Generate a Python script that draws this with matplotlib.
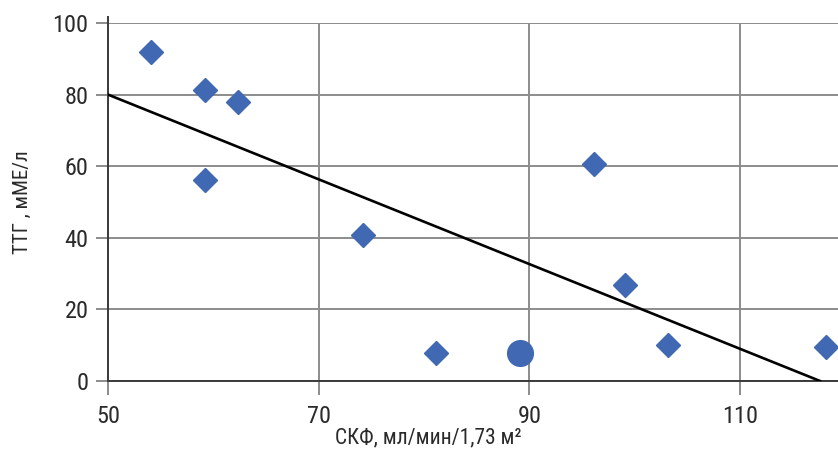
import matplotlib
matplotlib.use("Agg")
import matplotlib.pyplot as plt

plt.rcParams['font.family'] = ['Roboto Condensed', 'Liberation Sans Narrow', 'Roboto', 'DejaVu Sans']

# Data
gfr = [54.1, 59.2, 62.3, 59.2, 74.2, 81.1, 96.1, 99.1, 103.2, 118.2]
tsh = [91.9, 81.3, 77.9, 56.1, 40.8, 7.8, 60.6, 26.8, 10.1, 9.5]
highlight_gfr = [89.1]
highlight_tsh = [7.8]
trend_gfr = [50, 117.6]
trend_tsh = [80, 0]
x_ticks = [50, 70, 90, 110]
y_ticks = [0, 20, 40, 60, 80, 100]

blue = '#4068B3'
grid_c = '#8c8c8c'
axis_c = '#3a3a3a'
text_c = '#2a2a2a'

fig = plt.figure(figsize=(8.38, 4.54), dpi=100)
ax = fig.add_axes([108/838, (454-381)/454, (838-108)/838, (381-23)/454])
ax.set_xlim(50, 50 + 730/10.533)
ax.set_ylim(0, 100)

ax.set_xticks(x_ticks)
ax.set_yticks(y_ticks)
ax.grid(True, color=grid_c, linewidth=1.4)
ax.set_axisbelow(True)

for s in ['top', 'right']:
    ax.spines[s].set_visible(False)
ax.spines['left'].set_color(axis_c)
ax.spines['left'].set_linewidth(1.4)
ax.spines['left'].set_bounds(0, 101.7)
ax.spines['bottom'].set_color(axis_c)
ax.spines['bottom'].set_linewidth(1.4)

ax.tick_params(axis='y', length=9, width=1.4, color=grid_c, pad=5,
               labelsize=17.5, labelcolor=text_c)
ax.tick_params(axis='x', length=10, width=1.4, color=grid_c, pad=7,
               labelsize=17.5, labelcolor=text_c)

ax.plot(trend_gfr, trend_tsh, color='black', linewidth=1.9, zorder=3)
ax.plot(gfr, tsh, linestyle='none', marker='D', markersize=12.5,
        color=blue, zorder=4, clip_on=False)
ax.plot(highlight_gfr, highlight_tsh, linestyle='none', marker='o',
        markersize=18.5, color=blue, zorder=4, clip_on=False)

ax.set_xlabel('СКФ, мл/мин/1,73 м²', fontsize=15.5, color=text_c)
ax.set_ylabel('ТТГ , мМЕ/л', fontsize=15, color=text_c)
ax.xaxis.set_label_coords((428-108)/730, -(438-381)/358)
ax.yaxis.set_label_coords(-(108-22)/730, 0.5)
ax.xaxis.label.set_va('center')
ax.yaxis.label.set_va('center')

fig.savefig('out.png', dpi=100)
